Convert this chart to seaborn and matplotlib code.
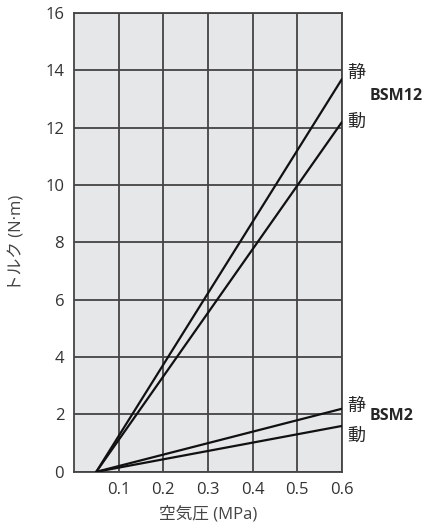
import pandas as pd
import seaborn as sns
import matplotlib.pyplot as plt

# air pressure (MPa) at start and end of each line
pressure = [0.05, 0.6]
bsm12_static = [0, 13.7]
bsm12_dynamic = [0, 12.2]
bsm2_static = [0, 2.2]
bsm2_dynamic = [0, 1.6]
x_ticks = [0.1, 0.2, 0.3, 0.4, 0.5, 0.6]
y_ticks = [0, 2, 4, 6, 8, 10, 12, 14, 16]

rows = []
for name, vals in [('BSM12 静', bsm12_static), ('BSM12 動', bsm12_dynamic),
                   ('BSM2 静', bsm2_static), ('BSM2 動', bsm2_dynamic)]:
    for p, v in zip(pressure, vals):
        rows.append({'series': name, 'pressure': p, 'torque': v})
df = pd.DataFrame(rows)

sns.set_style('white')
plt.rcParams['font.family'] = ['Open Sans', 'Noto Sans CJK JP', 'DejaVu Sans']

fig, ax = plt.subplots(figsize=(4.35, 5.26), dpi=100)
fig.subplots_adjust(left=0.17, right=0.786, top=0.975, bottom=0.103)
ax.set_facecolor('#e6e7e8')

sns.lineplot(data=df, x='pressure', y='torque', units='series', estimator=None,
             color='#111111', linewidth=1.6, ax=ax, zorder=3)

ax.set_xlim(0, 0.6)
ax.set_ylim(0, 16)
ax.set_xticks(x_ticks)
ax.set_xticklabels([f'{t:.1f}' for t in x_ticks])
ax.set_yticks(y_ticks)
ax.grid(True, color='#444444', linewidth=1.3)
ax.tick_params(length=0, labelsize=12, colors='#333333', pad=7)
for s in ax.spines.values():
    s.set_color('#444444')
    s.set_linewidth(1.3)

ax.set_xlabel('空気圧 (MPa)', fontsize=12, color='#444444', labelpad=6)
ax.set_ylabel('トルク (N·m)', fontsize=12, color='#444444', labelpad=14)

# series labels at right side
ax.text(0.613, 13.9, '静', fontsize=13, va='center', clip_on=False)
ax.text(0.613, 12.2, '動', fontsize=13, va='center', clip_on=False)
ax.text(0.661, 13.1, 'BSM12', fontsize=11.5, fontweight='bold', va='center', clip_on=False)
ax.text(0.613, 2.3, '静', fontsize=13, va='center', clip_on=False)
ax.text(0.613, 1.27, '動', fontsize=13, va='center', clip_on=False)
ax.text(0.661, 1.93, 'BSM2', fontsize=11.5, fontweight='bold', va='center', clip_on=False)

fig.savefig('out.png', dpi=100)
